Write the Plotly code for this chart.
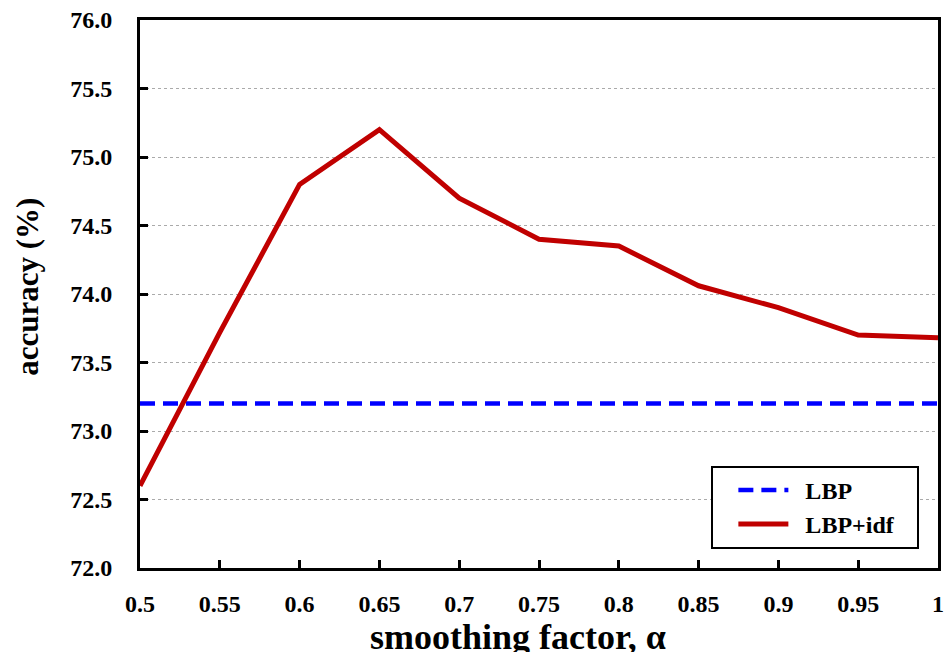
import plotly.graph_objects as go

alpha = [0.5, 0.55, 0.6, 0.65, 0.7, 0.75, 0.8, 0.85, 0.9, 0.95, 1.0]
lbp_idf = [72.6, 73.72, 74.8, 75.2, 74.7, 74.4, 74.35, 74.06, 73.9, 73.7, 73.68]
lbp_value = 73.2
lbp = [lbp_value] * len(alpha)
x_tick_vals = [0.5, 0.55, 0.6, 0.65, 0.7, 0.75, 0.8, 0.85, 0.9, 0.95, 1.0]
x_tick_text = ["0.5", "0.55", "0.6", "0.65", "0.7", "0.75", "0.8", "0.85", "0.9", "0.95", "1"]
y_tick_vals = [72.0, 72.5, 73.0, 73.5, 74.0, 74.5, 75.0, 75.5, 76.0]
x_title = "smoothing factor, α"
y_title = "accuracy (%)"

FONT = "Liberation Serif"
NB = "\u00a0"

fig = go.Figure()
fig.add_trace(go.Scatter(x=alpha, y=lbp, mode="lines", name=NB * 2 + "<b>LBP</b>" + NB * 3,
                         line=dict(color="#0000FF", width=4.5, dash="15px,8px")))
fig.add_trace(go.Scatter(x=alpha, y=lbp_idf, mode="lines", name=NB * 2 + "<b>LBP+idf</b>" + NB * 3,
                         line=dict(color="#C00000", width=5)))

fig.update_layout(
    width=944, height=652,
    margin=dict(l=140, r=6, t=20, b=84),
    paper_bgcolor="white", plot_bgcolor="white",
    font=dict(family=FONT, size=24, color="black"),
    showlegend=True,
    legend=dict(x=0.716, y=0.035, xanchor="left", yanchor="bottom",
                bordercolor="black", borderwidth=2, bgcolor="white",
                font=dict(family=FONT, size=24, color="black"),
                tracegroupgap=0, itemwidth=50, indentation=20),
    xaxis=dict(range=[0.5, 1.0], tickvals=x_tick_vals, ticktext=["<b>%s</b>" % t for t in x_tick_text],
               showline=True, linecolor="black", linewidth=3, mirror=True,
               ticks="inside", ticklen=8, tickwidth=3, tickcolor="black",
               showgrid=False, zeroline=False, ticklabelstandoff=12, automargin=False),
    yaxis=dict(range=[72.0, 76.0], tickvals=y_tick_vals,
               ticktext=["<b>%.1f</b>" % v for v in y_tick_vals],
               showline=True, linecolor="black", linewidth=3, mirror=True,
               ticks="inside", ticklen=8, tickwidth=3, tickcolor="black",
               showgrid=True, gridcolor="#AAAAAA", gridwidth=1, griddash="3px,3px",
               zeroline=False, ticklabelstandoff=20, automargin=False),
    annotations=[
        dict(text="<b>%s</b>" % x_title, xref="paper", yref="paper", x=0.474, y=-0.086,
             xanchor="center", yanchor="top", showarrow=False,
             font=dict(family=FONT, size=36, color="black")),
        dict(text="<b>%s</b>" % y_title, xref="paper", yref="paper", x=-0.141, y=0.514,
             xanchor="center", yanchor="middle", showarrow=False, textangle=-90,
             font=dict(family=FONT, size=31, color="black")),
    ],
)

fig.write_html("out.html", config={"displayModeBar": False},
               post_script="document.body.style.margin='0';document.body.style.overflow='hidden';")
